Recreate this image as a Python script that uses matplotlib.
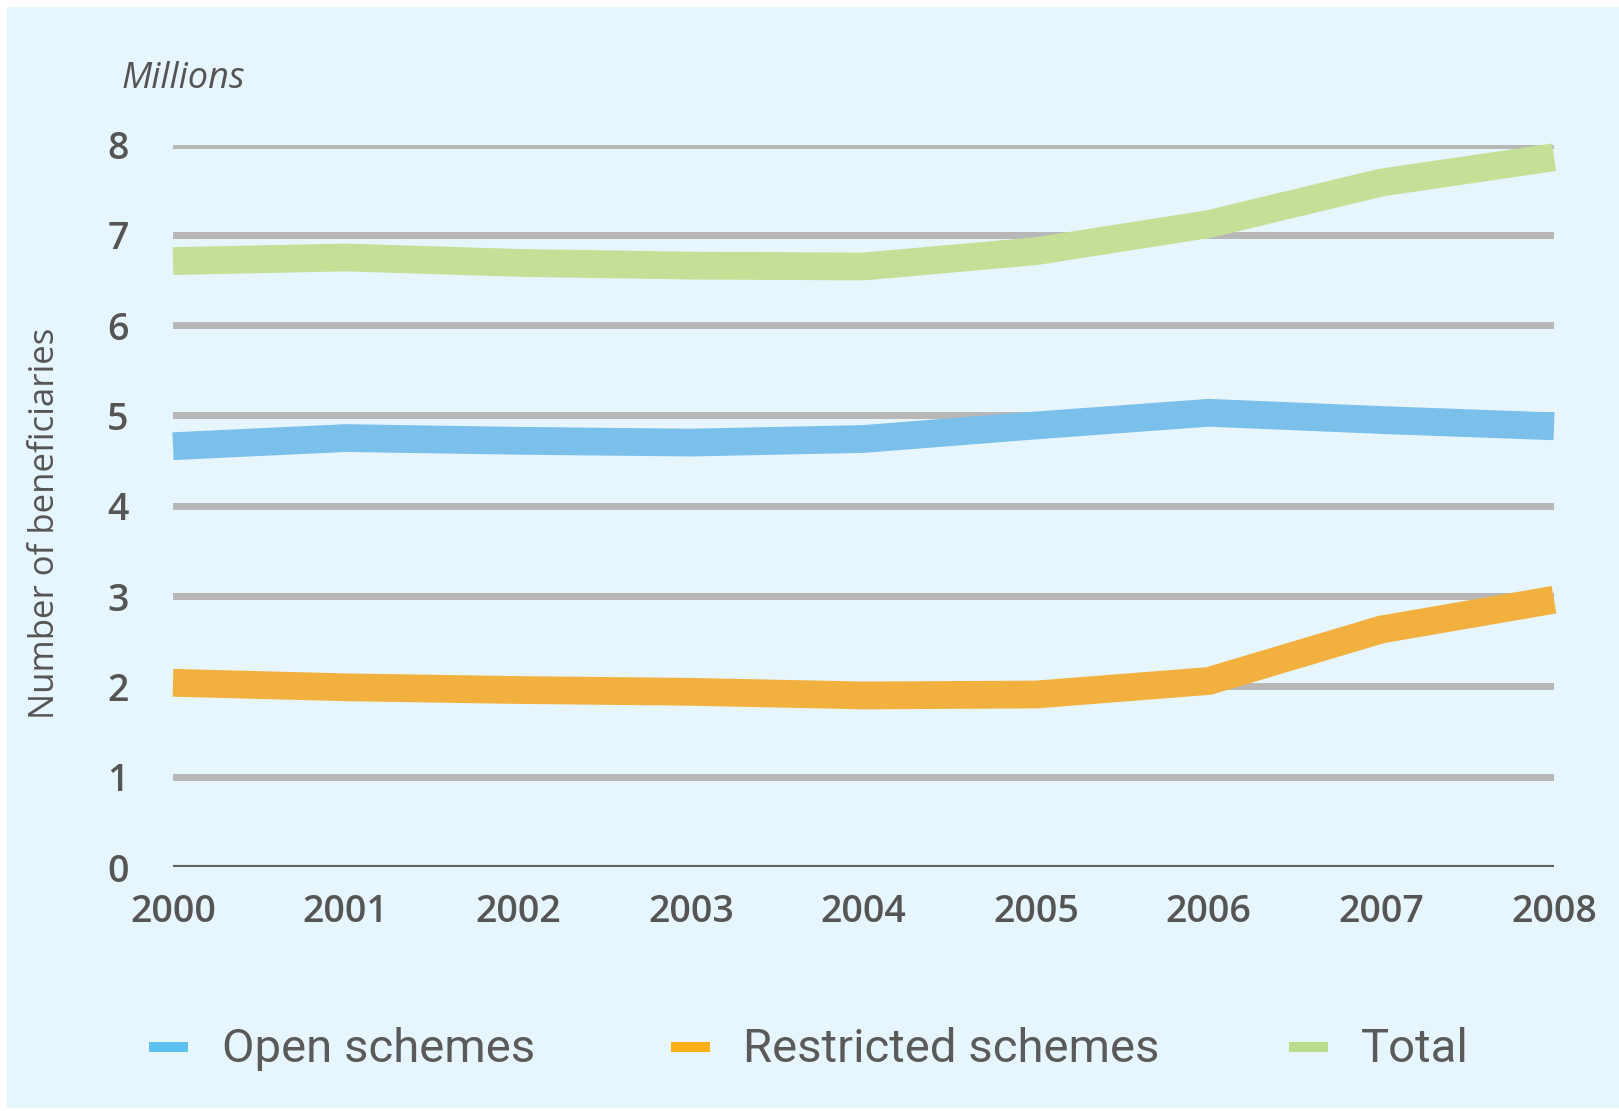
import matplotlib
matplotlib.use("Agg")
import matplotlib.pyplot as plt
from matplotlib.patches import Rectangle

# ====== Data (millions of beneficiaries) ======
years = [2000, 2001, 2002, 2003, 2004, 2005, 2006, 2007, 2008]
open_schemes = [4.66, 4.75, 4.72, 4.70, 4.74, 4.89, 5.03, 4.95, 4.88]
restricted_schemes = [2.04, 1.99, 1.96, 1.94, 1.90, 1.91, 2.06, 2.63, 2.96]
total = [6.71, 6.75, 6.69, 6.66, 6.65, 6.82, 7.12, 7.58, 7.86]

series_names = ["Open schemes", "Restricted schemes", "Total"]
line_colors = ["#7bc0ea", "#f2b03e", "#c5df96"]
legend_colors = ["#5bc2f0", "#fbaf17", "#b9db8c"]

W, H = 1619, 1111
fig = plt.figure(figsize=(W / 100, H / 100), dpi=100, facecolor="white")

# light blue panel behind everything
fig.add_artist(Rectangle((7 / W, 3 / H), 1 - 7 / W, 1 - 10 / H,
                         transform=fig.transFigure, facecolor="#e7f5fc",
                         edgecolor="none", zorder=0))

ax = fig.add_axes([173 / W, (H - 867) / H, (1554 - 173) / W, (867 - 144.6) / H])
ax.set_facecolor("none")
ax.set_xlim(2000, 2008)
ax.set_ylim(0, 8)

# horizontal grid lines
for v in range(1, 9):
    ax.axhline(v, color="#b7b7b7", linewidth=5, zorder=1)
ax.axhline(0, color="#606060", linewidth=3, zorder=1)

for vals, col in zip([open_schemes, restricted_schemes, total], line_colors):
    ax.plot(years, vals, color=col, linewidth=20, solid_capstyle="butt",
            solid_joinstyle="miter", clip_on=False, zorder=3)

for s in ax.spines.values():
    s.set_visible(False)

tick_font = dict(family="Open Sans", weight="semibold", size=27, color="#555555")
ax.set_xticks(years)
ax.set_xticklabels([str(y) for y in years], fontdict=tick_font)
ax.set_yticks(range(0, 9))
ax.set_yticklabels([str(v) for v in range(0, 9)], fontdict=tick_font)
ax.tick_params(axis="both", length=0)
ax.tick_params(axis="x", pad=19)
ax.tick_params(axis="y", pad=32)

fig.text(122 / W, (H - 88) / H, "Millions", family="Open Sans", style="italic",
         size=26, color="#555555", va="baseline", ha="left")
fig.text(45 / W, (H - 523) / H, "Number of beneficiaries", family="Open Sans",
         size=25, color="#555555", rotation=90, ha="center", va="center")

# legend row along the bottom
patch_x = [149, 671, 1289]
text_x = [222, 743, 1361]
for name, col, px, tx in zip(series_names, legend_colors, patch_x, text_x):
    fig.add_artist(Rectangle((px / W, (H - 1052) / H), 39 / W, 10 / H,
                             transform=fig.transFigure, facecolor=col,
                             edgecolor="none"))
    fig.text(tx / W, (H - 1062) / H, name, family="Roboto", weight="normal",
             size=34, color="#5a5a5a", va="baseline", ha="left")

fig.savefig("out.png", dpi=100, facecolor="white")
